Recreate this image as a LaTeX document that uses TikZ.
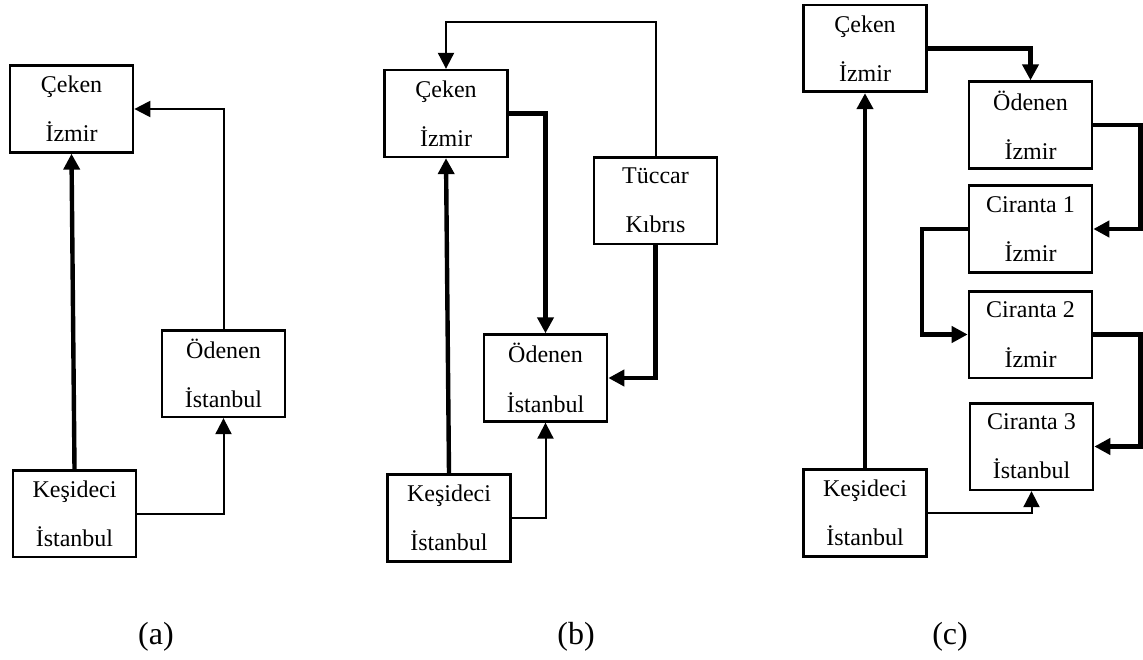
\documentclass[tikz,border=0pt]{standalone}
\usepackage{fontspec}
\setmainfont{Liberation Serif}
\usetikzlibrary{arrows.meta}
\tikzset{
  box/.style={draw, line width=2pt, minimum width=92.25pt, minimum height=65pt, inner sep=0pt,
    align=center, font=\fontsize{18}{37}\selectfont},
  thinline/.style={line width=1.5pt, -{Triangle[length=12pt,width=12pt]}},
  thickline/.style={line width=3.3pt, -{Triangle[length=12pt,width=12pt]}},
  caption/.style={font=\fontsize{24}{28}\selectfont}
}
\begin{document}
\begin{tikzpicture}[x=0.75pt,y=-0.75pt]
\useasboundingbox (0,0) rectangle (1143,660);
% (a)
\node[box] (aC) at (71.5,109) {Çeken\\İzmir};
\node[box] (aO) at (223.5,373.5) {Ödenen\\İstanbul};
\node[box] (aK) at (74.5,513.5) {Keşideci\\İstanbul};
\draw[thickline] (aK.north) -- (aC.south);
\draw[thinline] (aK.east) -| (aO.south);
\draw[thinline] (aO.north) |- (aC.east);
% (b)
\node[box] (bC) at (446,113.5) {Çeken\\İzmir};
\node[box] (bT) at (655.5,200.5) {Tüccar\\Kıbrıs};
\node[box] (bO) at (545.5,378) {Ödenen\\İstanbul};
\node[box] (bK) at (449,518) {Keşideci\\İstanbul};
\coordinate (bTop) at (0,22);
\draw[thinline] (bT.north) -- (bT.north |- bTop) -| (bC.north);
\draw[thickline] (bC.east) -| (bO.north);
\draw[thickline] (bT.south) |- (bO.east);
\draw[thinline] (bK.east) -| (bO.south);
\draw[thickline] (bK.north) -- (bC.south);
% (c)
\node[box] (cC) at (865,48.5) {Çeken\\İzmir};
\node[box] (cO) at (1030.5,125) {Ödenen\\İzmir};
\node[box] (c1) at (1030.5,229) {Ciranta 1\\İzmir};
\node[box] (c2) at (1030.5,334.5) {Ciranta 2\\İzmir};
\node[box] (c3) at (1031.5,446.5) {Ciranta 3\\İstanbul};
\node[box] (cK) at (865,513) {Keşideci\\İstanbul};
\coordinate (cR) at (1140.5,0);
\coordinate (cL) at (922,0);
\draw[thickline] (cC.east) -| (cO.north);
\draw[thickline] (cO.east) -- (cO.east -| cR) |- (c1.east);
\draw[thickline] (c1.west) -- (c1.west -| cL) |- (c2.west);
\draw[thickline] (c2.east) -- (c2.east -| cR) |- (c3.east);
\draw[thinline] (cK.east) -| (c3.south);
\draw[thickline] (cK.north) -- (cC.south);
% captions
\node[caption] (la) at (156,637) {(a)};
\node[caption] (lb) at (576,637) {(b)};
\node[caption] (lc) at (950,637) {(c)};
\end{tikzpicture}
\end{document}
